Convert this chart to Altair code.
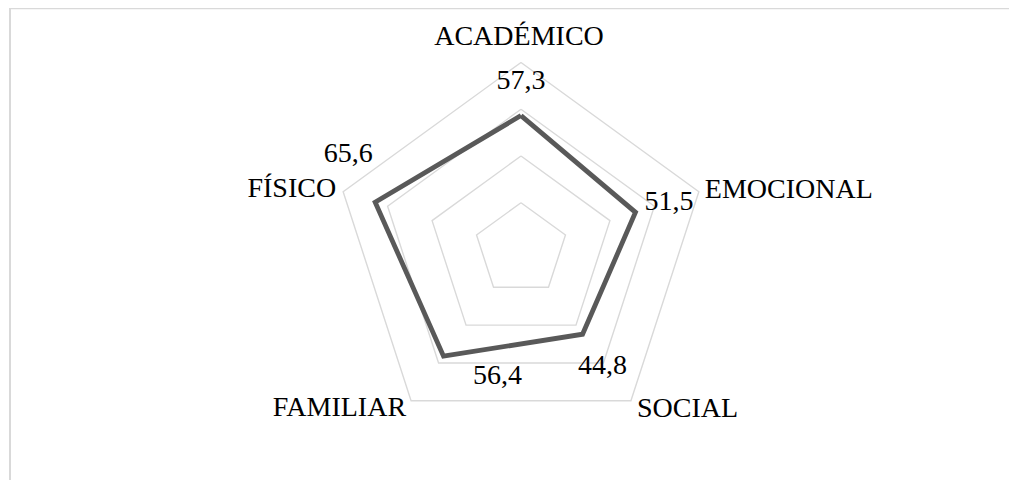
import altair as alt
import pandas as pd

categories = ["ACADÉMICO", "EMOCIONAL", "SOCIAL", "FAMILIAR", "FÍSICO"]
values = [57.3, 51.5, 44.8, 56.4, 65.6]
value_labels = ["57,3", "51,5", "44,8", "56,4", "65,6"]
ring_levels = [20, 40, 60, 80]
scale_max = 80

n = len(categories)
series_df = pd.DataFrame({
    "idx": list(range(n + 1)),
    "cat": [categories[i % n] for i in range(n + 1)],
    "value": [values[i % n] for i in range(n + 1)],
})
rings_df = pd.DataFrame({
    "level": [lv for lv in ring_levels for _ in range(n + 1)],
    "idx": [i for _ in ring_levels for i in range(n + 1)],
})
labels_df = pd.DataFrame({
    "idx": list(range(n)),
    "cat": categories,
    "value": values,
    "vlabel": value_labels,
})

W, H = 1001, 472
R_PX = 187.0
CX, CY = 513.0, 241.5
ppu = R_PX / scale_max
x_dom = [-CX / ppu, (W - CX) / ppu]
y_dom = [-(H - CY) / ppu, CY / ppu]

xs = alt.Scale(domain=x_dom, nice=False, zero=False)
ys = alt.Scale(domain=y_dom, nice=False, zero=False)

ang = "PI/2 - 2*PI*datum.idx/" + str(n)

def polar(chart, rexpr):
    return chart.transform_calculate(
        px=f"({rexpr})*cos({ang})",
        py=f"({rexpr})*sin({ang})",
    )

rings = polar(alt.Chart(rings_df), "datum.level").mark_line(
    color="#d9d9d9", strokeWidth=1.4, strokeJoin="miter"
).encode(
    x=alt.X("px:Q", scale=xs, axis=None),
    y=alt.Y("py:Q", scale=ys, axis=None),
    detail="level:N",
    order="idx:Q",
)

series = polar(alt.Chart(series_df), "datum.value").mark_line(
    color="#595959", strokeWidth=4.8, strokeJoin="miter"
).encode(
    x=alt.X("px:Q", scale=xs, axis=None),
    y=alt.Y("py:Q", scale=ys, axis=None),
    order="idx:Q",
)

FONT = "Liberation Serif, Times New Roman, DejaVu Serif, serif"
FS = 28

cat_style = {
    "ACADÉMICO": ("center", -2, -18),
    "EMOCIONAL": ("left", 6, 6),
    "SOCIAL": ("left", 6, 16),
    "FAMILIAR": ("right", -5, 15),
    "FÍSICO": ("right", -7, 5),
}
val_style = {
    "ACADÉMICO": ("center", 0, -27),
    "EMOCIONAL": ("left", 9, -2),
    "SOCIAL": ("center", 20, 40),
    "FAMILIAR": ("center", 54, 28),
    "FÍSICO": ("center", -27, -40),
}

text_layers = []
for c in categories:
    a, dx, dy = cat_style[c]
    text_layers.append(
        polar(alt.Chart(labels_df).transform_filter(alt.datum.cat == c), str(scale_max))
        .mark_text(font=FONT, fontSize=FS, color="#000000", align=a,
                   baseline="alphabetic", dx=dx, dy=dy)
        .encode(x=alt.X("px:Q", scale=xs, axis=None),
                y=alt.Y("py:Q", scale=ys, axis=None),
                text="cat:N")
    )
    a, dx, dy = val_style[c]
    text_layers.append(
        polar(alt.Chart(labels_df).transform_filter(alt.datum.cat == c), "datum.value")
        .mark_text(font=FONT, fontSize=FS, color="#000000", align=a,
                   baseline="alphabetic", dx=dx, dy=dy)
        .encode(x=alt.X("px:Q", scale=xs, axis=None),
                y=alt.Y("py:Q", scale=ys, axis=None),
                text="vlabel:N")
    )

frame_df = pd.DataFrame({"k": [0]})
left_rule = alt.Chart(frame_df).mark_rule(color="#d9d9d9", strokeWidth=2).encode(
    x=alt.value(2), y=alt.value(0), y2=alt.value(H)
)
top_rule = alt.Chart(frame_df).mark_rule(color="#d9d9d9", strokeWidth=1.5).encode(
    x=alt.value(2), x2=alt.value(W), y=alt.value(0.5)
)

chart = alt.layer(left_rule, top_rule, rings, series, *text_layers).properties(
    width=W, height=H, autosize=alt.AutoSizeParams(type="none"), padding=0
).configure_view(stroke=None)

chart.save("out.html", embed_options={"renderer": "svg", "actions": False})
